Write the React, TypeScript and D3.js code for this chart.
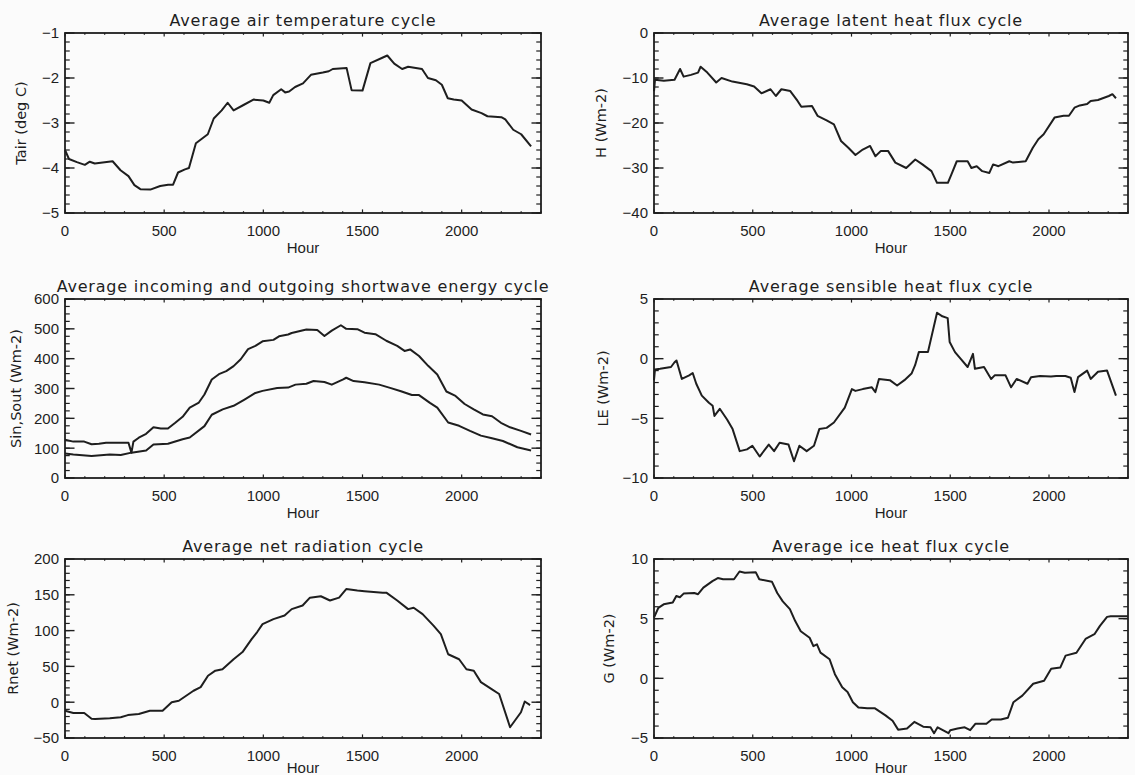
import React from 'react'
import * as d3 from 'd3'

const W = 1135
const H = 775
const HOUR_MAX = 2400
const hourTicks = [0, 500, 1000, 1500, 2000]

// air temperature (deg C)
const tairHour = [0, 20, 60, 100, 125, 150, 200, 240, 280, 320, 350, 380, 430, 480, 520, 545, 570, 605, 625, 660, 690, 720, 750, 790, 820, 850, 900, 950, 1000, 1030, 1050, 1090, 1110, 1130, 1160, 1200, 1240, 1300, 1330, 1350, 1420, 1445, 1500, 1540, 1600, 1625, 1660, 1700, 1730, 1800, 1830, 1870, 1900, 1930, 1960, 2000, 2050, 2100, 2130, 2200, 2220, 2260, 2300, 2350]
const tairValue = [-3.6, -3.8, -3.87, -3.93, -3.86, -3.9, -3.87, -3.85, -4.05, -4.18, -4.38, -4.47, -4.48, -4.4, -4.37, -4.37, -4.1, -4.03, -4.0, -3.45, -3.35, -3.25, -2.9, -2.72, -2.55, -2.72, -2.6, -2.48, -2.5, -2.55, -2.38, -2.25, -2.32, -2.3, -2.2, -2.12, -1.93, -1.88, -1.85, -1.8, -1.78, -2.27, -2.28, -1.67, -1.55, -1.5, -1.68, -1.8, -1.75, -1.8, -2.0, -2.05, -2.15, -2.45, -2.48, -2.5, -2.7, -2.78, -2.85, -2.87, -2.92, -3.15, -3.25, -3.52]

// latent heat flux
const latentHour = [0, 5, 50, 104, 132, 150, 187, 223, 236, 270, 315, 342, 397, 470, 507, 544, 590, 617, 645, 690, 727, 746, 800, 828, 874, 911, 947, 984, 1020, 1057, 1094, 1121, 1149, 1185, 1222, 1277, 1323, 1359, 1405, 1433, 1488, 1506, 1533, 1588, 1607, 1634, 1662, 1698, 1717, 1744, 1799, 1818, 1882, 1918, 1946, 1973, 2028, 2074, 2101, 2129, 2156, 2193, 2211, 2248, 2303, 2321, 2339]
const latentValue = [-12.9, -10.4, -10.6, -10.4, -8.0, -9.7, -9.3, -8.8, -7.5, -8.8, -11.0, -10.0, -10.8, -11.4, -11.9, -13.4, -12.5, -14.0, -12.5, -12.9, -15.1, -16.4, -16.2, -18.4, -19.4, -20.3, -24.0, -25.5, -27.1, -25.9, -25.1, -27.4, -26.2, -26.2, -28.8, -30.0, -28.1, -29.2, -30.7, -33.3, -33.3, -31.4, -28.5, -28.5, -30.0, -29.6, -30.7, -31.1, -29.2, -29.6, -28.5, -28.8, -28.5, -25.5, -23.6, -22.5, -18.8, -18.4, -18.4, -16.6, -16.1, -15.8, -15.1, -14.9, -14.0, -13.6, -14.5]

// incoming shortwave
const sinHour = [0, 42, 97, 134, 171, 207, 281, 320, 335, 345, 372, 409, 446, 483, 519, 556, 593, 629, 675, 703, 740, 776, 813, 850, 886, 923, 960, 996, 1051, 1079, 1125, 1143, 1180, 1217, 1272, 1308, 1345, 1391, 1418, 1474, 1510, 1565, 1620, 1675, 1712, 1740, 1785, 1831, 1877, 1923, 1969, 2015, 2061, 2107, 2153, 2198, 2244, 2299, 2350]
const sinValue = [128, 122, 122, 113, 115, 118, 118, 118, 85, 122, 135, 148, 170, 166, 166, 185, 205, 236, 253, 280, 330, 348, 358, 375, 398, 432, 443, 458, 463, 475, 481, 486, 492, 498, 496, 476, 494, 512, 500, 499, 487, 482, 460, 443, 426, 431, 409, 376, 347, 290, 275, 248, 230, 213, 207, 185, 170, 158, 146]

// outgoing shortwave
const soutHour = [0, 42, 134, 226, 281, 335, 409, 446, 519, 593, 629, 703, 740, 795, 850, 905, 960, 996, 1070, 1125, 1162, 1217, 1253, 1308, 1345, 1400, 1418, 1455, 1510, 1584, 1639, 1694, 1749, 1785, 1840, 1877, 1932, 1987, 2042, 2097, 2153, 2208, 2281, 2350]
const soutValue = [82, 79, 74, 79, 77, 85, 92, 112, 115, 130, 136, 174, 212, 230, 242, 263, 285, 292, 302, 303, 313, 316, 325, 322, 313, 330, 336, 325, 321, 313, 302, 291, 278, 278, 252, 236, 186, 175, 158, 142, 133, 124, 103, 92]

// sensible heat flux
const leHour = [0, 5, 31, 86, 104, 114, 141, 178, 196, 214, 242, 278, 297, 306, 333, 370, 398, 434, 471, 498, 535, 581, 608, 636, 681, 709, 736, 773, 810, 837, 874, 911, 966, 1002, 1020, 1057, 1103, 1121, 1139, 1194, 1231, 1268, 1304, 1322, 1341, 1387, 1433, 1460, 1487, 1497, 1524, 1552, 1588, 1615, 1625, 1671, 1707, 1725, 1780, 1808, 1836, 1891, 1909, 1955, 2010, 2037, 2083, 2110, 2129, 2147, 2193, 2211, 2248, 2294, 2339]
const leValue = [-1.8, -0.9, -0.85, -0.7, -0.3, -0.15, -1.7, -1.4, -1.2, -2.1, -3.1, -3.7, -3.95, -4.8, -4.2, -5.1, -5.9, -7.75, -7.6, -7.3, -8.2, -7.2, -7.75, -7.05, -7.2, -8.6, -7.3, -7.75, -7.3, -5.9, -5.8, -5.35, -4.1, -2.55, -2.7, -2.55, -2.4, -2.8, -1.7, -1.8, -2.25, -1.8, -1.25, -0.55, 0.55, 0.55, 3.85, 3.55, 3.4, 1.4, 0.55, 0.0, -0.7, 0.4, -0.85, -0.7, -1.7, -1.4, -1.4, -2.4, -1.7, -2.1, -1.55, -1.45, -1.5, -1.45, -1.45, -1.6, -2.8, -1.55, -1.0, -1.7, -1.1, -1.0, -3.1]

// net radiation
const rnetHour = [0, 42, 97, 134, 152, 226, 281, 317, 372, 428, 492, 538, 574, 611, 648, 684, 721, 758, 794, 850, 895, 941, 969, 996, 1051, 1107, 1143, 1198, 1235, 1290, 1336, 1382, 1418, 1474, 1510, 1602, 1620, 1675, 1730, 1758, 1803, 1858, 1895, 1932, 1987, 2024, 2061, 2097, 2153, 2189, 2244, 2299, 2318, 2345]
const rnetValue = [-12, -15, -15, -23, -23.5, -22.5, -21, -18, -16.5, -12, -12, 0, 2, 9, 16, 21, 37, 44, 46, 60, 70, 88, 98, 109, 116, 121, 130, 135, 146, 148, 142, 146, 158, 156, 155, 153, 153, 142, 130, 132, 123, 107, 95, 67, 60, 46, 44, 28, 18, 11.5, -35, -14, 1, -4]

// ice heat flux
const gHour = [0, 22, 49, 95, 113, 131, 150, 204, 223, 250, 296, 323, 350, 405, 433, 460, 515, 533, 597, 624, 652, 688, 715, 743, 788, 807, 825, 843, 889, 916, 953, 980, 1007, 1035, 1080, 1117, 1172, 1208, 1236, 1281, 1318, 1363, 1400, 1418, 1436, 1491, 1500, 1537, 1573, 1601, 1628, 1683, 1710, 1756, 1792, 1820, 1865, 1920, 1975, 2011, 2057, 2084, 2139, 2185, 2230, 2258, 2294, 2312, 2400]
const gValue = [5.1, 5.9, 6.2, 6.35, 6.9, 6.8, 7.1, 7.15, 7.05, 7.6, 8.15, 8.4, 8.3, 8.3, 8.95, 8.85, 8.9, 8.3, 8.1, 7.15, 6.45, 5.8, 4.8, 3.95, 3.4, 2.7, 2.85, 2.15, 1.6, 0.35, -0.75, -1.15, -2.0, -2.45, -2.5, -2.5, -3.1, -3.55, -4.3, -4.2, -3.65, -4.05, -4.1, -4.6, -4.1, -4.6, -4.35, -4.2, -4.1, -4.35, -3.8, -3.8, -3.45, -3.45, -3.3, -2.0, -1.45, -0.45, -0.2, 0.8, 0.9, 1.9, 2.15, 3.3, 3.7, 4.4, 5.15, 5.2, 5.2]

type Box = { x0: number; x1: number; y0: number; y1: number }
type Pt = [number, number]

const LEFT = { x0: 65, x1: 541 }
const RIGHT = { x0: 654, x1: 1128 }
const ROWS = [
  { y0: 33, y1: 213 },
  { y0: 299, y1: 478 },
  { y0: 559, y1: 738 },
]

const INK = '#1e1e1e'
const fmt = d3.format('d')

function Panel(props: {
  box: Box
  title: string
  yLabel: string
  yLabelX: number
  yDomain: [number, number]
  yTicks: number[]
  yMinor: number
  series: Pt[][]
}) {
  const { box, title, yLabel, yLabelX, yDomain, yTicks, yMinor, series } = props
  const x = d3.scaleLinear().domain([0, HOUR_MAX]).range([box.x0, box.x1])
  const y = d3.scaleLinear().domain(yDomain).range([box.y1, box.y0])
  const line = d3
    .line<Pt>()
    .x((d) => x(d[0]))
    .y((d) => y(d[1]))

  // IDL style: ticks inside, on all four sides, 2% of plot size
  const xLen = 0.02 * (box.y1 - box.y0)
  const yLen = 0.02 * (box.x1 - box.x0)
  const xMinor = d3.range(0, HOUR_MAX + 1, 100)
  const yMinorTicks = d3.range(yDomain[0], yDomain[1] + yMinor / 2, yMinor)
  const cx = (box.x0 + box.x1) / 2
  const cy = (box.y0 + box.y1) / 2

  return (
    <g>
      <text
        x={cx}
        y={box.y0 - 7}
        textAnchor="middle"
        fontFamily="DejaVu Sans"
        fontSize={16}
        letterSpacing={0.8}
        fill={INK}
      >
        {title}
      </text>

      {xMinor.map((h) => {
        const major = h % 500 === 0
        const l = major ? xLen : xLen / 2
        return (
          <g key={'x' + h} stroke={INK} strokeWidth={1.2}>
            <line x1={x(h)} x2={x(h)} y1={box.y1} y2={box.y1 - l} />
            <line x1={x(h)} x2={x(h)} y1={box.y0} y2={box.y0 + l} />
          </g>
        )
      })}
      {yMinorTicks.map((v, i) => (
        <g key={'ym' + i} stroke={INK} strokeWidth={1.2}>
          <line x1={box.x0} x2={box.x0 + yLen / 2} y1={y(v)} y2={y(v)} />
          <line x1={box.x1} x2={box.x1 - yLen / 2} y1={y(v)} y2={y(v)} />
        </g>
      ))}
      {yTicks.map((v) => (
        <g key={'y' + v}>
          <line x1={box.x0} x2={box.x0 + yLen} y1={y(v)} y2={y(v)} stroke={INK} strokeWidth={1.4} />
          <line x1={box.x1} x2={box.x1 - yLen} y1={y(v)} y2={y(v)} stroke={INK} strokeWidth={1.4} />
          <text
            x={box.x0 - 6}
            y={y(v)}
            dy="0.36em"
            textAnchor="end"
            fontFamily="Liberation Sans"
            fontSize={15}
            fill={INK}
          >
            {fmt(v)}
          </text>
        </g>
      ))}

      <rect
        x={box.x0}
        y={box.y0}
        width={box.x1 - box.x0}
        height={box.y1 - box.y0}
        fill="none"
        stroke={INK}
        strokeWidth={1.8}
      />

      {hourTicks.map((h) => (
        <text
          key={'xl' + h}
          x={x(h)}
          y={box.y1 + 23}
          textAnchor="middle"
          fontFamily="Liberation Sans"
          fontSize={15}
          fill={INK}
        >
          {fmt(h)}
        </text>
      ))}
      <text
        x={cx}
        y={Math.min(box.y1 + 40, H - 2)}
        textAnchor="middle"
        fontFamily="Liberation Sans"
        fontSize={15}
        fill={INK}
      >
        Hour
      </text>

      <text
        transform={`translate(${yLabelX},${cy}) rotate(-90)`}
        dy="0.36em"
        textAnchor="middle"
        fontFamily="DejaVu Sans"
        fontSize={14.5}
        fill={INK}
      >
        {yLabel}
      </text>

      {series.map((s, i) => (
        <path
          key={'s' + i}
          d={line(s) ?? ''}
          fill="none"
          stroke={INK}
          strokeWidth={2}
          strokeLinejoin="round"
        />
      ))}
    </g>
  )
}

const pts = (h: number[], v: number[]) => d3.zip(h, v) as Pt[]

export default function App() {
  return (
    <svg
      width={W}
      height={H}
      style={{ position: 'absolute', left: 0, top: 0, background: '#fbfbfb' }}
    >
      <Panel
        box={{ ...LEFT, ...ROWS[0] }}
        title="Average air temperature cycle"
        yLabel="Tair (deg C)"
        yLabelX={21}
        yDomain={[-5, -1]}
        yTicks={[-5, -4, -3, -2, -1]}
        yMinor={0.2}
        series={[pts(tairHour, tairValue)]}
      />
      <Panel
        box={{ ...RIGHT, ...ROWS[0] }}
        title="Average latent heat flux cycle"
        yLabel="H (Wm-2)"
        yLabelX={601}
        yDomain={[-40, 0]}
        yTicks={[-40, -30, -20, -10, 0]}
        yMinor={2}
        series={[pts(latentHour, latentValue)]}
      />
      <Panel
        box={{ ...LEFT, ...ROWS[1] }}
        title="Average incoming and outgoing shortwave energy cycle"
        yLabel="Sin,Sout (Wm-2)"
        yLabelX={16}
        yDomain={[0, 600]}
        yTicks={[0, 100, 200, 300, 400, 500, 600]}
        yMinor={25}
        series={[pts(sinHour, sinValue), pts(soutHour, soutValue)]}
      />
      <Panel
        box={{ ...RIGHT, ...ROWS[1] }}
        title="Average sensible heat flux cycle"
        yLabel="LE (Wm-2)"
        yLabelX={603}
        yDomain={[-10, 5]}
        yTicks={[-10, -5, 0, 5]}
        yMinor={1}
        series={[pts(leHour, leValue)]}
      />
      <Panel
        box={{ ...LEFT, ...ROWS[2] }}
        title="Average net radiation cycle"
        yLabel="Rnet (Wm-2)"
        yLabelX={13}
        yDomain={[-50, 200]}
        yTicks={[-50, 0, 50, 100, 150, 200]}
        yMinor={10}
        series={[pts(rnetHour, rnetValue)]}
      />
      <Panel
        box={{ ...RIGHT, ...ROWS[2] }}
        title="Average ice heat flux cycle"
        yLabel="G (Wm-2)"
        yLabelX={609}
        yDomain={[-5, 10]}
        yTicks={[-5, 0, 5, 10]}
        yMinor={1}
        series={[pts(gHour, gValue)]}
      />
    </svg>
  )
}
